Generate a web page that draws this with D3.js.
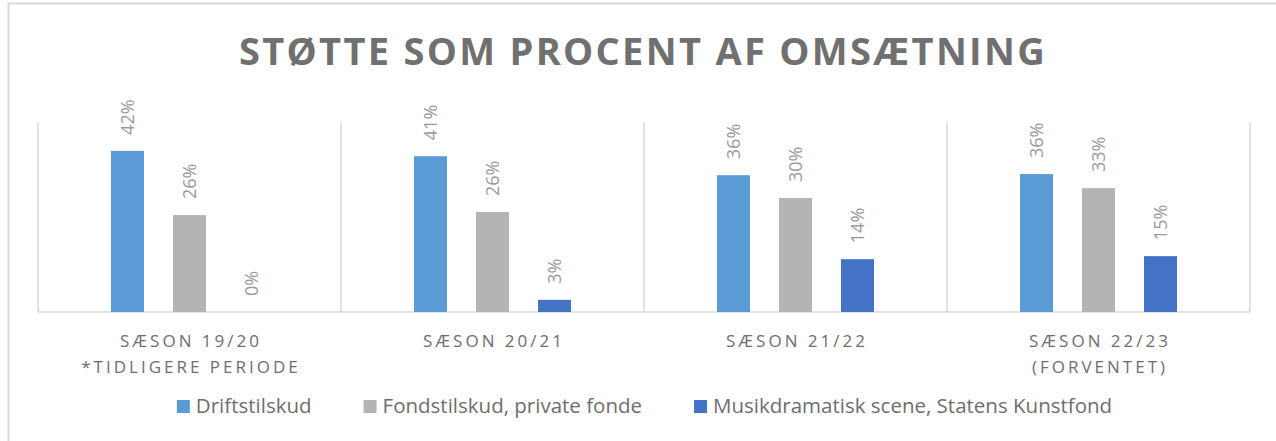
<!DOCTYPE html>
<html>
<head>
<meta charset="utf-8">
<script src="https://cdn.jsdelivr.net/npm/d3@7"></script>
<style>
  body { margin: 0; background: #fff; }
  svg { display: block; font-family: "Open Sans", sans-serif; }
</style>
</head>
<body>
<svg id="chart"></svg>
<script>
// chart data
var categories = [
    ["SÆSON 19/20", "*TIDLIGERE PERIODE"],
    ["SÆSON 20/21"],
    ["SÆSON 21/22"],
    ["SÆSON 22/23", "(FORVENTET)"]
];
var seriesNames = ["Driftstilskud", "Fondstilskud, private fonde", "Musikdramatisk scene, Statens Kunstfond"];
var driftstilskud = [0.424, 0.410, 0.360, 0.363];
var fondstilskud = [0.255, 0.263, 0.300, 0.326];
var musikdramatisk = [0, 0.032, 0.139, 0.147];
var colors = ["#5b9bd5", "#b4b4b4", "#4472c4"];

var width = 1276, height = 441;
var svg = d3.select('#chart').attr('width', width).attr('height', height);

// outer frame
svg.append('rect')
    .attr('x', 8.5).attr('y', 3.5)
    .attr('width', width + 10).attr('height', height + 10)
    .style('fill', 'none').style('stroke', '#d9d9d9').style('stroke-width', 2);

// title
svg.append('text')
    .attr('x', 643).attr('y', 65)
    .attr('text-anchor', 'middle')
    .style('font-size', '38px').style('font-weight', 'bold')
    .style('letter-spacing', '2.3px')
    .style('fill', '#707070')
    .text('STØTTE SOM PROCENT AF OMSÆTNING');

var catIdx = categories.map((d, i) => i);
var x = d3.scaleBand().domain(catIdx).range([38, 1250]).padding(0);
var xs = d3.scaleBand().domain([0, 1, 2]).range([0, x.bandwidth()])
    .paddingInner(29 / 62).paddingOuter(1.177);
var y = d3.scaleLinear().domain([0, 0.5]).range([312, 122]);

// vertical separators
svg.append('g').selectAll('line')
    .data(catIdx.concat([categories.length]))
    .enter().append('line')
    .attr('x1', d => d < categories.length ? x(d) : x.range()[1])
    .attr('x2', d => d < categories.length ? x(d) : x.range()[1])
    .attr('y1', y(0.5)).attr('y2', y(0))
    .style('stroke', '#d9d9d9').style('stroke-width', 1.5);

// baseline
svg.append('line')
    .attr('x1', x.range()[0]).attr('x2', x.range()[1])
    .attr('y1', y(0)).attr('y2', y(0))
    .style('stroke', '#d9d9d9').style('stroke-width', 1.5);

var series = [driftstilskud, fondstilskud, musikdramatisk];
var barData = [];
series.forEach(function (vals, s) {
    vals.forEach(function (v, c) { barData.push({s: s, c: c, v: v}); });
});

// bars
svg.append('g').selectAll('rect')
    .data(barData)
    .enter().append('rect')
    .attr('x', d => x(d.c) + xs(d.s))
    .attr('width', xs.bandwidth())
    .attr('y', d => y(d.v))
    .attr('height', d => y(0) - y(d.v))
    .style('fill', d => colors[d.s]);

// value labels, rotated
var fmt = d3.format('.0%');
svg.append('g').selectAll('text')
    .data(barData)
    .enter().append('text')
    .attr('transform', d => 'translate(' + (x(d.c) + xs(d.s) + xs.bandwidth() / 2) + ',' + (y(d.v) - 16) + ') rotate(-90)')
    .attr('dy', '0.35em')
    .style('font-size', '18px')
    .style('fill', '#9a9a9a')
    .text(d => fmt(d.v));

// category labels
var cat = svg.append('g').selectAll('text')
    .data(categories)
    .enter().append('text')
    .attr('text-anchor', 'middle')
    .style('font-size', '17px')
    .style('letter-spacing', '3px')
    .style('fill', '#6e6e6e');
cat.selectAll('tspan')
    .data((d, i) => d.map(t => ({t: t, i: i})))
    .enter().append('tspan')
    .attr('x', d => x(d.i) + x.bandwidth() / 2 + 1.5)
    .attr('y', (d, j) => 347 + j * 26)
    .text(d => d.t);

// legend
var legend = svg.append('g');
var items = legend.selectAll('g')
    .data(seriesNames)
    .enter().append('g');
items.append('rect')
    .attr('width', 13).attr('height', 13)
    .attr('y', 400)
    .style('fill', (d, i) => colors[i]);
items.append('text')
    .attr('x', 19).attr('y', 413)
    .style('font-size', '20.5px')
    .style('fill', '#6e6e6e')
    .text(d => d);
var pos = 0, offsets = [];
items.each(function () {
    offsets.push(pos);
    pos += 19 + d3.select(this).select('text').node().getComputedTextLength() + 52;
});
var total = pos - 52;
var start = 644.5 - total / 2;
items.attr('transform', (d, i) => 'translate(' + (start + offsets[i]) + ',0)');
</script>
</body>
</html>
